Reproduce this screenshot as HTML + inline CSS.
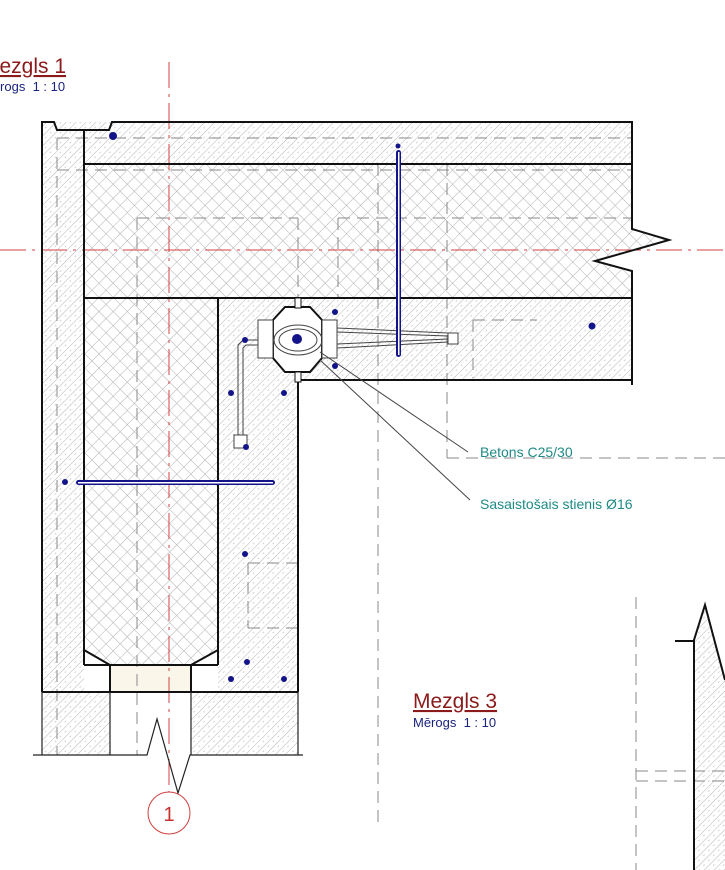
<!DOCTYPE html>
<html><head><meta charset="utf-8"><style>
html,body{margin:0;padding:0;background:#fff;width:725px;height:870px;overflow:hidden}
svg{display:block}
text{font-family:"Liberation Sans",Arial,sans-serif;white-space:pre}
</style></head><body>
<svg width="725" height="870" viewBox="0 0 725 870" xmlns="http://www.w3.org/2000/svg">
<defs>
<pattern id="conc" width="7" height="7" patternUnits="userSpaceOnUse" patternTransform="rotate(45)">
<rect width="7" height="7" fill="#fff"/><line x1="0" y1="0" x2="0" y2="7" stroke="#b4b4b4" stroke-width="1"/>
<line x1="3.5" y1="1" x2="3.5" y2="3" stroke="#c8c8c8" stroke-width="0.8"/>
</pattern>
<pattern id="ins" width="10" height="10" patternUnits="userSpaceOnUse" patternTransform="rotate(45)">
<rect width="10" height="10" fill="#fff"/><line x1="0" y1="0" x2="0" y2="10" stroke="#b0b0b0" stroke-width="1"/><line x1="0" y1="0" x2="10" y2="0" stroke="#b0b0b0" stroke-width="1"/>
</pattern>
</defs>

<rect x="42" y="122" width="590" height="42" fill="url(#conc)"/>
<rect x="42" y="122" width="42" height="570" fill="url(#conc)"/>
<polygon points="84,164 632,164 632,229 669,240 595,261 632,271 632,298 84,298" fill="url(#ins)"/>
<rect x="218" y="298" width="414" height="82" fill="url(#conc)"/>
<rect x="218" y="298" width="80" height="394" fill="url(#conc)"/>
<polygon points="84,298 218,298 218,650 191,665 110,665 84,650" fill="url(#ins)"/>
<rect x="110" y="665" width="81" height="27" fill="#fbf6ea"/>
<rect x="42" y="692" width="68" height="63" fill="url(#conc)"/>
<rect x="191" y="692" width="107" height="63" fill="url(#conc)"/>
<polygon points="694,640 705,605 725,680 725,870 694,870" fill="url(#conc)"/>

<g stroke="#8a8a8a" stroke-width="1" stroke-dasharray="12,7" fill="none">
<line x1="57" y1="138" x2="632" y2="138"/>
<line x1="57" y1="170" x2="632" y2="170"/>
<line x1="57" y1="138" x2="57" y2="755"/>
<line x1="137" y1="218" x2="137" y2="755"/>
<line x1="137" y1="218" x2="298" y2="218"/>
<line x1="338" y1="218" x2="632" y2="218"/>
<line x1="298" y1="218" x2="298" y2="298"/>
<line x1="338" y1="218" x2="338" y2="298"/>
<line x1="378" y1="164" x2="378" y2="825"/>
<line x1="447" y1="164" x2="447" y2="458"/>
<line x1="447" y1="458" x2="725" y2="458"/>
<line x1="473" y1="320" x2="537" y2="320"/>
<line x1="473" y1="320" x2="473" y2="378"/>
<line x1="248" y1="563" x2="298" y2="563"/>
<line x1="248" y1="563" x2="248" y2="628"/>
<line x1="248" y1="628" x2="298" y2="628"/>
<line x1="636" y1="597" x2="636" y2="870"/>
<line x1="636" y1="771" x2="725" y2="771"/>
<line x1="636" y1="781" x2="725" y2="781"/>
</g>

<g stroke="#d04040" stroke-width="1" stroke-dasharray="26,6,3,6" fill="none">
<line x1="169" y1="62" x2="169" y2="792"/>
<line x1="0" y1="250" x2="725" y2="250"/>
</g>

<g stroke="#111" stroke-width="2" fill="none">
<polyline points="42,692 42,122 54,122 57,130 109,130 112,122 632,122 632,229 669,240 595,261 632,271 632,385"/>
<line x1="84" y1="130" x2="84" y2="665"/>
<line x1="84" y1="164" x2="632" y2="164"/>
<line x1="84" y1="298" x2="632" y2="298"/>
<line x1="298" y1="380" x2="632" y2="380"/>
<line x1="298" y1="298" x2="298" y2="692"/>
<line x1="218" y1="298" x2="218" y2="665"/>
<polyline points="84,650 110,665 191,665 218,650"/>
<line x1="84" y1="665" x2="218" y2="665"/>
<line x1="110" y1="665" x2="110" y2="692"/>
<line x1="191" y1="665" x2="191" y2="692"/>
<line x1="42" y1="692" x2="298" y2="692"/>
<polyline points="694,870 694,640 705,605 725,680"/>
<line x1="675" y1="641" x2="694" y2="641"/>
</g>
<g stroke="#222" stroke-width="1.2" fill="none">
<line x1="42" y1="692" x2="42" y2="755"/>
<line x1="110" y1="692" x2="110" y2="755"/>
<line x1="191" y1="692" x2="191" y2="755"/>
<line x1="298" y1="692" x2="298" y2="755"/>
<polyline points="33,755 147,755 157,719 178,793 190,755 303,755"/>
</g>
<circle cx="169" cy="813" r="21" fill="#fff" stroke="#d04040" stroke-width="1"/>
<text x="169" y="821" font-size="20" fill="#c83030" text-anchor="middle">1</text>

<g stroke="#444" stroke-width="1" fill="none">
<polygon points="273,320 285,307 310,307 322,320 322,358 310,372 285,372 273,358" fill="#fff" stroke="#111" stroke-width="2"/>
<rect x="258" y="320" width="15" height="38" fill="#fff"/>
<rect x="322" y="320" width="15" height="38" fill="#fff"/>
<ellipse cx="298" cy="340" rx="24" ry="15"/>
<ellipse cx="298" cy="340" rx="19" ry="11"/>
<line x1="337" y1="328" x2="448" y2="333"/>
<line x1="337" y1="348" x2="448" y2="342"/>
<line x1="337" y1="332" x2="448" y2="336"/>
<line x1="337" y1="344" x2="448" y2="339"/>
<rect x="448" y="333" width="10" height="11" fill="#fff"/>
<polyline points="258,340 243,340 238,345 238,435"/>
<polyline points="258,345 246,345 243,348 243,435"/>
<rect x="234" y="435" width="13" height="13" fill="#fff"/>
<rect x="295" y="298" width="6" height="10" fill="#fff" stroke="#111"/>
<rect x="295" y="372" width="6" height="10" fill="#fff" stroke="#111"/>
<line x1="320" y1="352" x2="468" y2="452"/>
<line x1="320" y1="360" x2="470" y2="500"/>
</g>

<g fill="#14148a">
<rect x="396" y="150" width="5" height="207" rx="2.5"/>
<rect x="76" y="480" width="199" height="5" rx="2.5"/>
<circle cx="113" cy="136" r="4"/>
<circle cx="398" cy="146" r="2.5"/>
<circle cx="297" cy="339" r="5"/>
<circle cx="335" cy="312" r="3"/><circle cx="335" cy="366" r="3"/>
<circle cx="245" cy="340" r="3"/><circle cx="246" cy="447" r="3"/>
<circle cx="231" cy="393" r="3"/><circle cx="284" cy="393" r="3"/>
<circle cx="65" cy="482" r="3"/>
<circle cx="245" cy="554" r="3"/>
<circle cx="247" cy="662" r="3"/><circle cx="231" cy="679" r="3"/><circle cx="284" cy="679" r="3"/>
<circle cx="592" cy="326" r="3.5"/>
</g>
<rect x="398" y="152" width="1.5" height="203" fill="#fff"/>
<rect x="78" y="482" width="195" height="1.5" fill="#fff"/>

<text x="480" y="457" font-size="14" fill="#1f8a86">Betons C25/30</text>
<text x="480" y="509" font-size="14" fill="#1f8a86">Sasaistošais stienis Ø16</text>
<text x="-18" y="73" font-size="21" fill="#8b1a1a" text-decoration="underline">Mezgls 1</text>
<text x="-18" y="91" font-size="13" fill="#1a237e">Mērogs  1 : 10</text>
<text x="413" y="708" font-size="21" fill="#8b1a1a" text-decoration="underline">Mezgls 3</text>
<text x="413" y="727" font-size="13" fill="#1a237e">Mērogs  1 : 10</text>
</svg>
</body></html>
